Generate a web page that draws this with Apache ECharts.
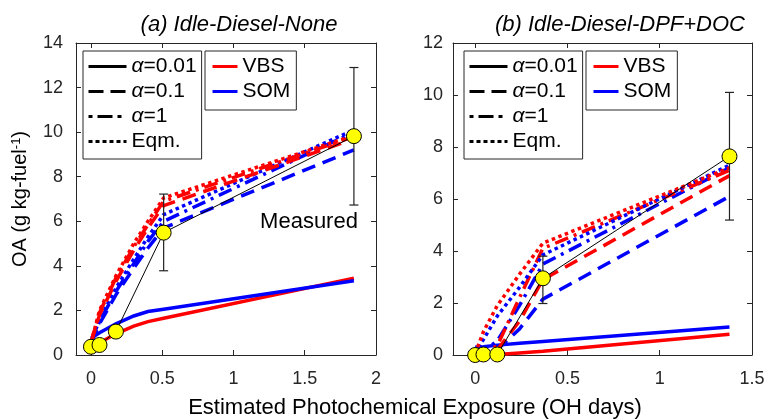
<!DOCTYPE html>
<html><head><meta charset="utf-8">
<script src="https://cdn.jsdelivr.net/npm/echarts@6/dist/echarts.min.js"></script>
<style>html,body{margin:0;padding:0;background:#fff}#c{width:770px;height:420px}</style>
</head><body><div id="c"></div>
<script>
// ---------- Panel (a) data ----------
const aModelX      = [0, 0.06, 0.175, 0.3, 0.4, 0.51, 1.845];
const aVBS_001     = [0.4, 0.55, 0.95, 1.3, 1.5, 1.65, 3.45];
const aVBS_01      = [0.55, 1.8, 3.3, 4.7, 5.7, 6.7, 9.7];
const aVBS_1       = [0.55, 1.9, 3.45, 4.85, 5.85, 6.9, 9.8];
const aVBS_eqm     = [0.55, 2.0, 3.55, 5.0, 6.0, 7.05, 9.85];
const aSOM_001     = [0.75, 1.0, 1.4, 1.75, 1.95, 2.05, 3.33];
const aSOM_01      = [0.55, 1.4, 2.7, 3.9, 4.8, 5.7, 9.2];
const aSOM_1       = [0.55, 1.5, 2.85, 4.1, 5.1, 6.0, 10.0];
const aSOM_eqm     = [0.55, 1.6, 3.0, 4.3, 5.3, 6.3, 10.1];
const aMeasX       = [0, 0.06, 0.175, 0.51, 1.845];
const aMeasY       = [0.37, 0.45, 1.05, 5.49, 9.82];
const aErrX        = [0.51, 1.845];
const aErrLow      = [3.78, 6.73];
const aErrHigh     = [7.22, 12.9];
const aXTicks      = [0, 0.5, 1, 1.5, 2];

// ---------- Panel (b) data ----------
const bModelX      = [0, 0.045, 0.12, 0.24, 0.367, 1.378];
const bVBS_001     = [0, 0.01, 0.02, 0.08, 0.14, 0.8];
const bVBS_01      = [0, 0.05, 0.2, 1.3, 2.9, 6.9];
const bVBS_1       = [0, 0.1, 0.35, 2.2, 4.1, 7.1];
const bVBS_eqm     = [0.05, 0.9, 1.9, 3.1, 4.3, 7.2];
const bSOM_001     = [0.3, 0.32, 0.38, 0.45, 0.52, 1.08];
const bSOM_01      = [0, 0.05, 0.2, 1.0, 2.15, 6.1];
const bSOM_1       = [0, 0.15, 0.55, 1.9, 3.5, 7.2];
const bSOM_eqm     = [0.05, 0.6, 1.5, 2.6, 3.85, 7.3];
const bMeasX       = [0, 0.045, 0.12, 0.367, 1.378];
const bMeasY       = [0, 0.02, 0.02, 2.95, 7.64];
const bErrX        = [0.367, 1.378];
const bErrLow      = [1.98, 5.19];
const bErrHigh     = [3.8, 10.1];
const bXTicks      = [0, 0.5, 1, 1.5];

const styleNames  = ['α=0.01', 'α=0.1', 'α=1', 'Eqm.'];
const modelNames  = ['VBS', 'SOM'];

// ---------- styles ----------
const FONT = 'Liberation Sans, Arial, Helvetica, sans-serif';
const AX = '#262626';
const RED = '#ff0000', BLUE = '#0000ff';
const DASH = {solid: 'solid', dashed: [14, 8], dashdot: [14, 6, 3, 6], dotted: [3.5, 3.5]};
const LW = 3.5;

const zip = (xs, ys) => xs.map((x, i) => [x, ys[i]]);

function modelSeries(idx, xs, ys, color, dash) {
  return {
    type: 'line', name: '_m' + idx + color + JSON.stringify(dash), xAxisIndex: idx, yAxisIndex: idx,
    data: zip(xs, ys), symbol: 'none', silent: true, animation: false,
    lineStyle: {color: color, width: LW, type: dash, cap: 'butt', join: 'miter'}
  };
}
function measuredSeries(idx, xs, ys, ex, lo, hi) {
  return [
    {type: 'line', name: '_ml' + idx, xAxisIndex: idx, yAxisIndex: idx, data: zip(xs, ys),
     symbol: 'none', silent: true, animation: false, z: 5, lineStyle: {color: '#000', width: 1}},
    {type: 'custom', name: '_eb' + idx, xAxisIndex: idx, yAxisIndex: idx, z: 6, silent: true, animation: false,
     data: ex.map((x, i) => [x, lo[i], hi[i]]),
     encode: {x: 0, y: [1, 2]},
     renderItem: function (params, api) {
       const x = api.value(0);
       const p1 = api.coord([x, api.value(2)]);
       const p2 = api.coord([x, api.value(1)]);
       const w = 4.5;
       const st = {stroke: '#222', lineWidth: 1.2};
       return {type: 'group', children: [
         {type: 'line', shape: {x1: p1[0], y1: p1[1], x2: p2[0], y2: p2[1]}, style: st},
         {type: 'line', shape: {x1: p1[0] - w, y1: p1[1], x2: p1[0] + w, y2: p1[1]}, style: st},
         {type: 'line', shape: {x1: p2[0] - w, y1: p2[1], x2: p2[0] + w, y2: p2[1]}, style: st}
       ]};
     }},
    {type: 'scatter', name: '_ms' + idx, xAxisIndex: idx, yAxisIndex: idx, data: zip(xs, ys), z: 7,
     symbol: 'circle', symbolSize: 15, silent: true, animation: false,
     itemStyle: {color: '#ffff00', borderColor: '#000', borderWidth: 1, opacity: 1}}
  ];
}

const series = [];
// panel a
series.push(modelSeries(0, aModelX, aVBS_001, RED, DASH.solid));
series.push(modelSeries(0, aModelX, aSOM_001, BLUE, DASH.solid));
series.push(modelSeries(0, aModelX, aSOM_01, BLUE, DASH.dashed));
series.push(modelSeries(0, aModelX, aSOM_1, BLUE, DASH.dashdot));
series.push(modelSeries(0, aModelX, aSOM_eqm, BLUE, DASH.dotted));
series.push(modelSeries(0, aModelX, aVBS_01, RED, DASH.dashed));
series.push(modelSeries(0, aModelX, aVBS_1, RED, DASH.dashdot));
series.push(modelSeries(0, aModelX, aVBS_eqm, RED, DASH.dotted));
series.push(...measuredSeries(0, aMeasX, aMeasY, aErrX, aErrLow, aErrHigh));
// panel b
series.push(modelSeries(1, bModelX, bVBS_001, RED, DASH.solid));
series.push(modelSeries(1, bModelX, bSOM_001, BLUE, DASH.solid));
series.push(modelSeries(1, bModelX, bSOM_01, BLUE, DASH.dashed));
series.push(modelSeries(1, bModelX, bVBS_01, RED, DASH.dashed));
series.push(modelSeries(1, bModelX, bSOM_1, BLUE, DASH.dashdot));
series.push(modelSeries(1, bModelX, bVBS_1, RED, DASH.dashdot));
series.push(modelSeries(1, bModelX, bSOM_eqm, BLUE, DASH.dotted));
series.push(modelSeries(1, bModelX, bVBS_eqm, RED, DASH.dotted));
series.push(...measuredSeries(1, bMeasX, bMeasY, bErrX, bErrLow, bErrHigh));

// legend-only series
const legendDash = [DASH.solid, [15, 7], [4, 5, 15, 5], [4, 3]];
styleNames.forEach((n, i) => series.push({type: 'line', name: n, xAxisIndex: 0, yAxisIndex: 0, data: [],
  symbol: 'none', color: '#000', lineStyle: {color: '#000', width: 3, type: legendDash[i], cap: 'butt'}}));
[RED, BLUE].forEach((c, i) => series.push({type: 'line', name: modelNames[i], xAxisIndex: 0, yAxisIndex: 0, data: [],
  symbol: 'none', color: c, lineStyle: {color: c, width: 3, type: 'solid'}}));

function legendStyle(names, left, itemWidth, pad) {
  return {
    data: names, orient: 'vertical', left: left, top: 51, selectedMode: false,
    itemWidth: itemWidth, itemHeight: 20, itemGap: 4,
    padding: pad, borderColor: AX, borderWidth: 1, borderRadius: 0, backgroundColor: '#fff',
    lineStyle: {width: 3, type: 'inherit', cap: 'butt'},
    itemStyle: {color: 'rgba(0,0,0,0)', borderWidth: 0, opacity: 0},
    textStyle: {fontFamily: FONT, fontSize: 21, color: '#000',
      rich: {i: {fontFamily: FONT, fontSize: 21, fontStyle: 'italic', color: '#000'},
             n: {fontFamily: FONT, fontSize: 21, color: '#000'}}},
    formatter: function (name) {
      if (name.charAt(0) === 'α') return '{i|α}{n|' + name.slice(1) + '}';
      return name;
    },
    z: 10
  };
}

function xAxisDef(idx, min, max, ticks, top) {
  return {
    type: 'value', gridIndex: idx, min: min, max: max, position: top ? 'top' : 'bottom',
    axisLine: {show: true, onZero: false, lineStyle: {color: AX, width: 1}},
    axisTick: {show: true, inside: true, length: 5, customValues: ticks, lineStyle: {color: AX}},
    axisLabel: {show: !top, customValues: ticks, margin: 15, color: AX, fontFamily: FONT, fontSize: 18},
    splitLine: {show: false}
  };
}
function yAxisDef(idx, max, right, margin) {
  return {
    type: 'value', gridIndex: idx, min: 0, max: max, interval: 2, position: right ? 'right' : 'left',
    axisLine: {show: true, onZero: false, lineStyle: {color: AX, width: 1}},
    axisTick: {show: true, inside: true, length: 5, lineStyle: {color: AX}},
    axisLabel: {show: !right, margin: margin, color: AX, fontFamily: FONT, fontSize: 18},
    splitLine: {show: false}
  };
}

const yA = yAxisDef(0, 14, false, 13);
yA.name = 'OA (g kg-fuel{sup|-1})';
yA.nameLocation = 'middle';
yA.nameRotate = 90;
yA.nameGap = 45;
yA.nameTextStyle = {fontFamily: FONT, fontSize: 20, color: '#000',
  rich: {sup: {fontFamily: FONT, fontSize: 13, color: '#000', verticalAlign: 'top', padding: [0, 0, 8, 0]}}};

const option = {
  animation: false,
  backgroundColor: '#fff',
  title: [
    {text: '(a) Idle-Diesel-None', left: 234, top: 9, textAlign: 'center',
     textStyle: {fontFamily: FONT, fontSize: 22, fontStyle: 'italic', fontWeight: 'normal', color: '#000'}},
    {text: '(b) Idle-Diesel-DPF+DOC', left: 615, top: 9, textAlign: 'center',
     textStyle: {fontFamily: FONT, fontSize: 22, fontStyle: 'italic', fontWeight: 'normal', color: '#000'}}
  ],
  grid: [
    {left: 76, right: 394, top: 43, bottom: 65},
    {left: 453, right: 18, top: 43, bottom: 65}
  ],
  xAxis: [
    xAxisDef(0, -0.105, 2, aXTicks, false),
    xAxisDef(1, -0.12, 1.5, bXTicks, false),
    xAxisDef(0, -0.105, 2, aXTicks, true),
    xAxisDef(1, -0.12, 1.5, bXTicks, true)
  ],
  yAxis: [yA, yAxisDef(1, 12, false, 10), yAxisDef(0, 14, true, 10), yAxisDef(1, 12, true, 10)],
  legend: [
    legendStyle(styleNames, 83, 38, [5, 5, 7, 4]),
    legendStyle(modelNames, 205, 25, [5, 6, 8, 6]),
    legendStyle(styleNames, 464, 38, [5, 5, 7, 4]),
    legendStyle(modelNames, 586, 25, [5, 6, 8, 6])
  ],
  graphic: [
    {type: 'text', style: {text: 'Estimated Photochemical Exposure (OH days)', x: 415, y: 408,
      textAlign: 'center', textVerticalAlign: 'middle', fontFamily: FONT, fontSize: 22, fill: '#000'}},
    {type: 'text', style: {text: 'Measured', x: 309, y: 222, textAlign: 'center', textVerticalAlign: 'middle',
      fontFamily: FONT, fontSize: 22, fill: '#000'}}
  ],
  series: series
};

const chart = echarts.init(document.getElementById('c'), null, {renderer: 'canvas'});
chart.setOption(option);
</script></body></html>
